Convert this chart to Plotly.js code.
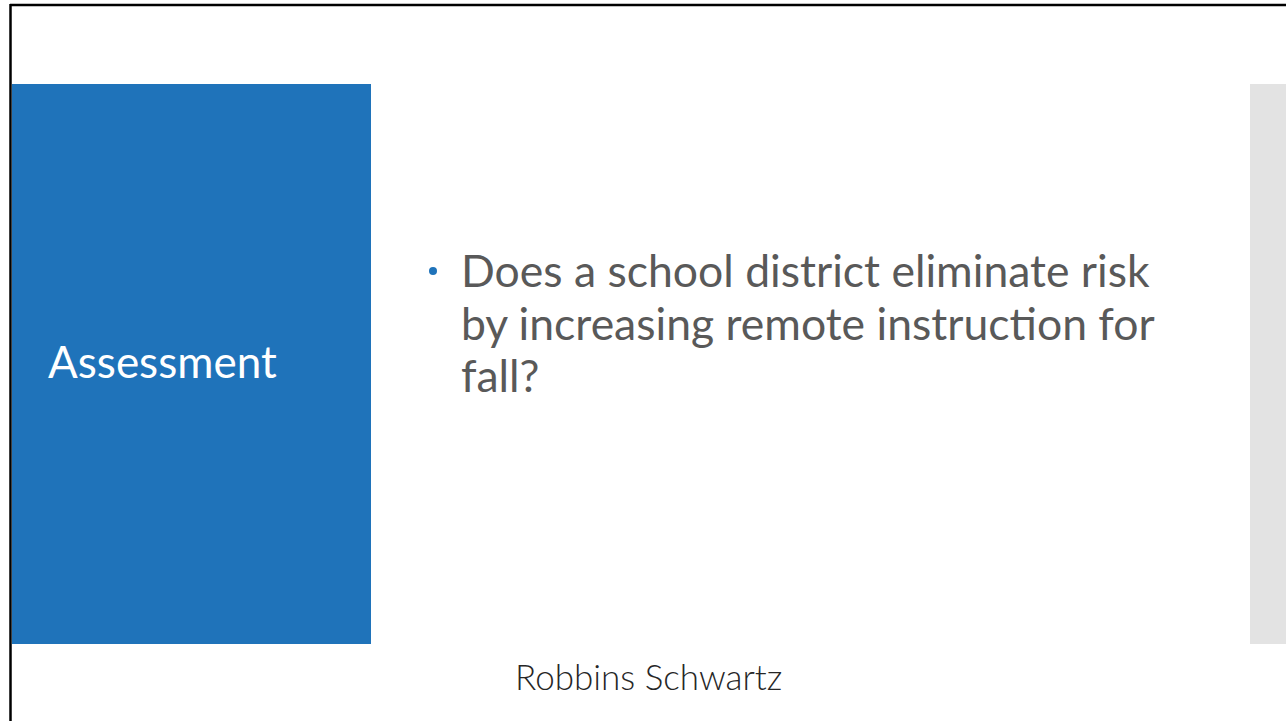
<!DOCTYPE html>
<html>
<head>
<meta charset="utf-8">
<script src="https://cdn.plot.ly/plotly-3.0.1.min.js"></script>
<style>
html,body{margin:0;padding:0;background:#fff;overflow:hidden;}
#chart{width:1286px;height:721px;}
</style>
</head>
<body>
<div id="chart"></div>
<script>
// Slide content
const sideTitle = "Assessment";
const bulletLines = [
  "Does a school district eliminate risk",
  "by increasing remote instruction for",
  "fall?"
];
const footerText = "Robbins Schwartz";

const blue = "#1F73BA";
const textGray = "#595959";

const W = 1286, H = 721;

const lineBaselines = [287, 340, 392];

const annotations = [];
annotations.push({
  x: 46, y: 378, xref: "x", yref: "y", xanchor: "left", yanchor: "bottom",
  text: sideTitle, showarrow: false,
  font: {family: "Lato, 'Open Sans', sans-serif", size: 44, color: "#ffffff"},
  yshift: -11
});
bulletLines.forEach((t, i) => {
  annotations.push({
    x: 459, y: lineBaselines[i], xref: "x", yref: "y", xanchor: "left", yanchor: "bottom",
    text: t, showarrow: false,
    font: {family: "Lato, 'Open Sans', sans-serif", size: 44.5, color: textGray},
    yshift: -11
  });
});
annotations.push({
  x: 648, y: 690, xref: "x", yref: "y", xanchor: "center", yanchor: "bottom",
  text: footerText, showarrow: false,
  font: {family: "Lato, 'Open Sans', sans-serif", size: 35, color: "#262626", weight: 300},
  yshift: -9
});

const shapes = [
  {type: "rect", xref: "x", yref: "y", x0: 12, x1: 371, y0: 84, y1: 644, fillcolor: blue, line: {width: 0}, layer: "below"},
  {type: "rect", xref: "x", yref: "y", x0: 1250, x1: 1290, y0: 84, y1: 644, fillcolor: "#E3E3E3", line: {width: 0}, layer: "below"},
  {type: "line", xref: "x", yref: "y", x0: 10, x1: 1290, y0: 5, y1: 5, line: {color: "#000", width: 2.5}},
  {type: "line", xref: "x", yref: "y", x0: 10.5, x1: 10.5, y0: 4, y1: 725, line: {color: "#000", width: 2.5}},
  {type: "circle", xref: "x", yref: "y", x0: 429, x1: 437, y0: 267, y1: 275, fillcolor: blue, line: {width: 0}}
];

Plotly.newPlot("chart", [], {
  width: W, height: H,
  margin: {l: 0, r: 0, t: 0, b: 0},
  paper_bgcolor: "#ffffff", plot_bgcolor: "#ffffff",
  xaxis: {range: [0, W], visible: false, fixedrange: true},
  yaxis: {range: [H, 0], visible: false, fixedrange: true},
  showlegend: false,
  shapes: shapes,
  annotations: annotations
}, {staticPlot: true, displayModeBar: false});
</script>
</body>
</html>
